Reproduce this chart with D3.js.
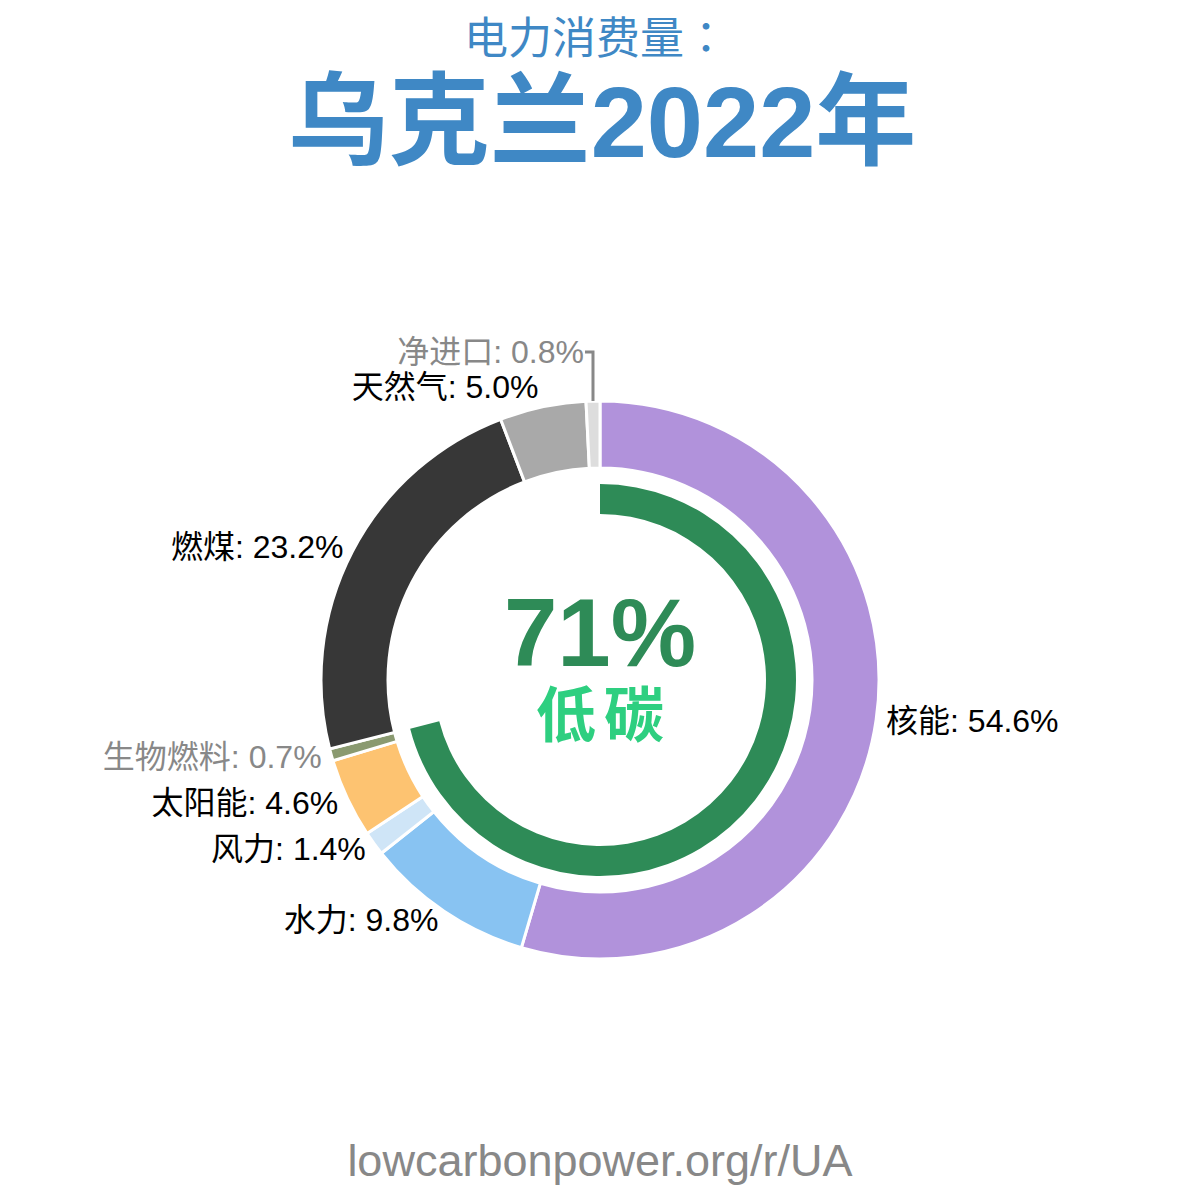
<!DOCTYPE html>
<head>
<meta charset="utf-8">
<script src="https://d3js.org/d3.v7.min.js"></script>
<style>
  body { margin: 0; background: #fff; }
</style>
</head>
<body>
<div id="my_dataviz"></div>
<script>
// data
var sources = ["核能", "水力", "风力", "太阳能", "生物燃料", "燃煤", "天然气", "净进口"];
var shares = [54.6, 9.8, 1.4, 4.6, 0.7, 23.2, 5.0, 0.8];
var colors = ["#b192db", "#88c3f2", "#cfe5f7", "#fdc371", "#8a9a70", "#373737", "#a9a9a9", "#dddddd"];
var labelColors = ["#000", "#000", "#000", "#000", "#888", "#000", "#000", "#888"];
var lowCarbonShare = 71;

var width = 1200, height = 1200;
var cx = 600, cy = 680;
var rOuter = 279, rInner = 212;
var font = "'Liberation Sans', Arial, 'Noto Sans CJK SC', sans-serif";

var svg = d3.select("#my_dataviz")
    .append("svg")
    .attr("width", width)
    .attr("height", height)
    .style("font-family", font);

// titles
svg.append("text")
    .attr("x", 596).attr("y", 38)
    .attr("text-anchor", "middle").attr("dominant-baseline", "central")
    .style("font-family", "'Liberation Sans', 'Noto Sans CJK JP', sans-serif")
    .style("font-size", "44px").style("fill", "#3f88c5")
    .text("电力消费量：");

svg.append("text")
    .attr("x", 602).attr("y", 122)
    .attr("text-anchor", "middle").attr("dominant-baseline", "central")
    .style("font-size", "101px").style("font-weight", "bold").style("fill", "#3f88c5")
    .text("乌克兰2022年");

var g = svg.append("g").attr("transform", "translate(" + cx + "," + cy + ")");

var data = sources.map(function(s, i) {
    return { key: s, value: shares[i], color: colors[i], labelColor: labelColors[i] };
});

var pie = d3.pie().sort(null).value(function(d) { return d.value; });
var arcs = pie(data);

var arc = d3.arc().innerRadius(rInner).outerRadius(rOuter);

g.selectAll("slices")
    .data(arcs)
    .enter()
    .append("path")
    .attr("d", arc)
    .attr("fill", function(d) { return d.data.color; })
    .attr("stroke", "white")
    .attr("stroke-width", 3);

// labels
var rLabel = 289;
var labelSize = "32px";
arcs.forEach(function(d, i) {
    var a = (d.startAngle + d.endAngle) / 2;
    var txt = d.data.key + ": " + d.data.value.toFixed(1) + "%";
    if (i === arcs.length - 1) {
        // small slice at top, leader line
        var x0 = Math.sin(a) * rOuter, y0 = -Math.cos(a) * rOuter;
        var yTop = -328;
        g.append("polyline")
            .attr("points", [[x0, y0], [x0, yTop], [x0 - 8, yTop]].map(function(p) { return p.join(","); }).join(" "))
            .attr("fill", "none").attr("stroke", "#888").attr("stroke-width", 3);
        g.append("text")
            .attr("x", x0 - 9).attr("y", yTop)
            .attr("text-anchor", "end").attr("dominant-baseline", "central")
            .style("font-size", labelSize).style("fill", d.data.labelColor)
            .text(txt);
        return;
    }
    var r = rLabel + (Math.abs(Math.cos(a)) > 0.9 ? 10 : 0);
    var x = Math.sin(a) * r, y = -Math.cos(a) * r;
    g.append("text")
        .attr("x", x).attr("y", y)
        .attr("text-anchor", x >= 0 ? "start" : "end")
        .attr("dominant-baseline", "central")
        .style("font-size", labelSize).style("fill", d.data.labelColor)
        .text(txt);
});

// low carbon ring
var lowArc = d3.arc()
    .innerRadius(166).outerRadius(196)
    .startAngle(0)
    .endAngle(2 * Math.PI * lowCarbonShare / 100);

g.append("path")
    .attr("d", lowArc())
    .attr("fill", "#2e8b57");

g.append("text")
    .attr("x", 0).attr("y", -48)
    .attr("text-anchor", "middle").attr("dominant-baseline", "central")
    .style("font-size", "96px").style("font-weight", "bold").style("fill", "#2e8b57")
    .text(lowCarbonShare + "%");

g.append("text")
    .attr("x", 4).attr("y", 36)
    .attr("text-anchor", "middle").attr("dominant-baseline", "central")
    .style("font-size", "60px").style("font-weight", "bold").style("fill", "#2ecf80")
    .style("letter-spacing", "8px")
    .text("低碳");

// footer
svg.append("text")
    .attr("x", 600).attr("y", 1160)
    .attr("text-anchor", "middle").attr("dominant-baseline", "central")
    .style("font-size", "45px").style("fill", "#888")
    .text("lowcarbonpower.org/r/UA");
</script>
</body>
